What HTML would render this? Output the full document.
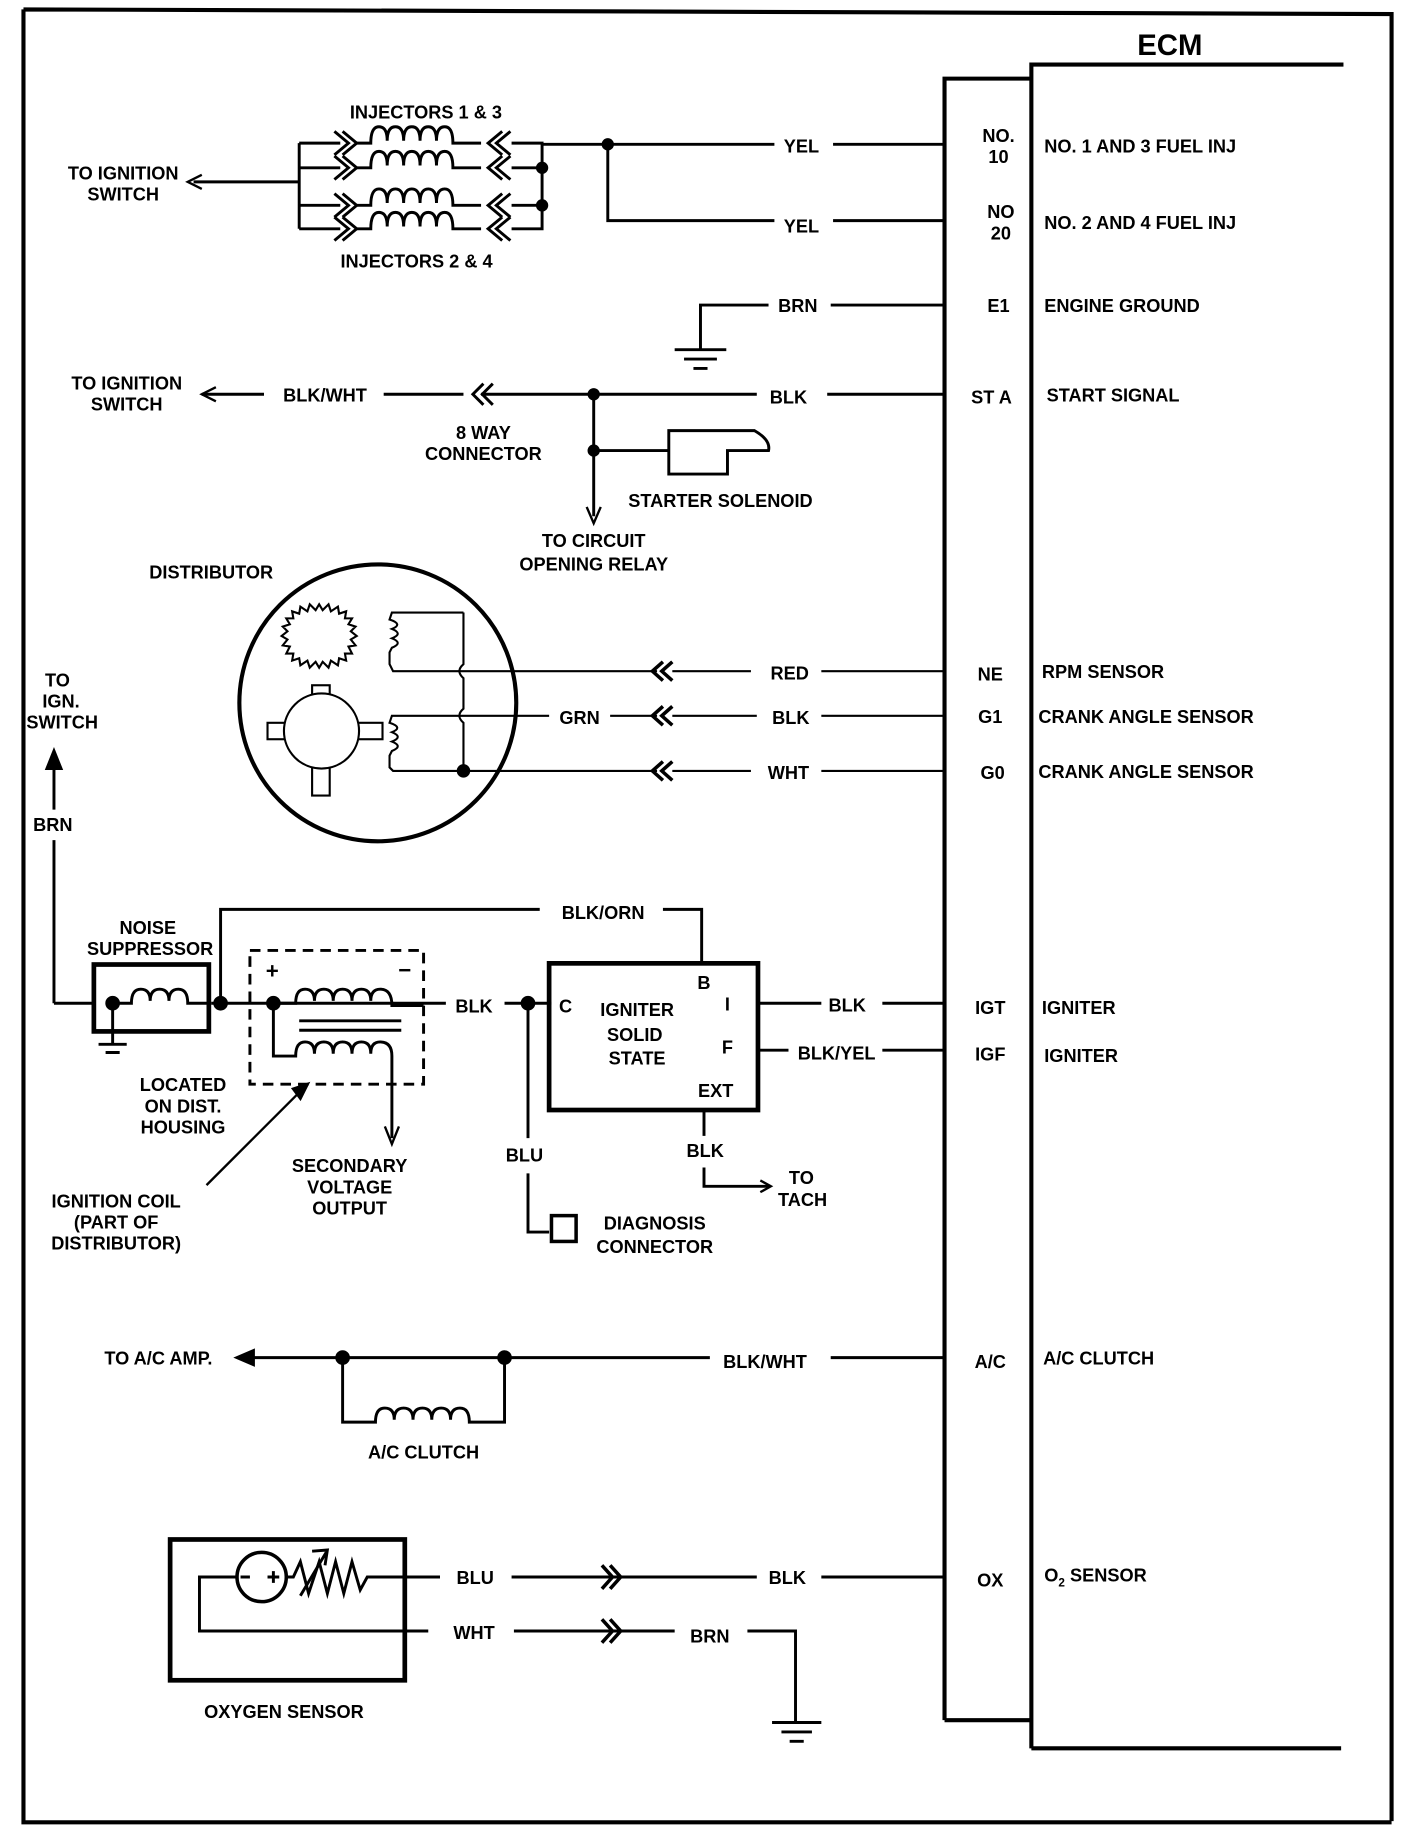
<!DOCTYPE html>
<html><head><meta charset="utf-8"><style>
html,body{margin:0;padding:0;background:#fff;}
svg{display:block;}
text{font-family:"Liberation Sans",sans-serif;font-weight:bold;font-size:15.5px;fill:#000;}
</style></head><body>
<svg width="1408" height="1834" viewBox="0 0 1200 1563" preserveAspectRatio="none" xmlns="http://www.w3.org/2000/svg">
<g fill="none" stroke="#000" stroke-width="2.5" stroke-linecap="butt">
<path d="M20 8 L1186 12 L1186 1552 M20 8 L20 1553 L1186 1553" stroke-width="3.5"/>
<path d="M805 1466 L805 67 L879 67 M879 1490 L879 55 L1145 55 M879 1490 L1143 1490 M805 1466 L879 1466" stroke-width="3.5"/>

<path d="M165 155 L255 155 M255 122 L255 195 M255 122 L290 122 M255 143 L290 143 M255 175 L290 175 M255 195 L290 195"/>
<path d="M172 149 L160 155 L172 161" stroke-width="2"/>
<g id="inj">
<path d="M285 112 L297 122 L285 132 M292 112 L304 122 L292 132"/>
<path d="M304 122 L316 122 Q316 108 323 108 Q330 108 330 120 Q330 108 337 108 Q344 108 344 120 Q344 108 351 108 Q358 108 358 120 Q358 108 365 108 Q372 108 372 120 Q372 108 379 108 Q386 108 386 122 L410 122"/>
<path d="M428 112 L416 122 L428 132 M435 112 L423 122 L435 132"/>
</g>
<use href="#inj" y="21"/>
<use href="#inj" y="53"/>
<use href="#inj" y="73"/>
<path d="M436 122 L462 122 L462 195 L436 195 M436 143 L462 143 M436 175 L462 175"/>
<circle cx="462" cy="143" r="4" fill="#000"/>
<circle cx="462" cy="175" r="4" fill="#000"/>
<circle cx="518" cy="123" r="4" fill="#000"/>
<path d="M462 123 L660 123 M710 123 L805 123 M518 123 L518 188 L660 188 M710 188 L805 188"/>
<path d="M597 298 L597 260 L655 260 M708 260 L805 260 M575 298 L619 298 M583 306 L611 306 M591 314 L603 314"/>
<path d="M172 336 L225 336 M327 336 L395 336 M410 336 L645 336 M705 336 L805 336"/>
<path d="M184 330 L172 336 L184 342" stroke-width="2"/>
<path d="M412 327 L403 336 L412 345 M420 327 L411 336 L420 345"/>
<circle cx="506" cy="336" r="4" fill="#000"/>
<circle cx="506" cy="384" r="4" fill="#000"/>
<path d="M506 336 L506 440 M506 384 L570 384 M570 404 L570 367 L643 367 Q657 375 655 384 L620 384 L620 404 Z"/>
<path d="M500 432 L506 446 L512 432" stroke-width="2"/>
<circle cx="322" cy="599" r="118" stroke-width="3.5"/>
<g stroke-width="1.8">
<path d="M395 522 L334 522 L332 528 Q344 532 334 536 Q344 540 334 544 Q344 548 334 552 L332 556 L332 566 L335 572 L560 572"/>
<path d="M560 610 L334 610 L332 616 Q344 620 334 624 Q344 628 334 632 Q344 636 334 640 L332 644 L332 654 L335 657 L560 657"/>
<path d="M395 522 L395 566 Q388 572 395 578 L395 604 Q388 610 395 616 L395 657"/>
<path d="M272 515 L275 520 L280 515 L282 521 L288 517 L289 523 L295 521 L294 527 L300 527 L297 532 L303 534 L299 538 L304 542 L299 545 L303 550 L297 551 L300 557 L294 557 L295 563 L289 561 L288 567 L282 563 L280 569 L275 564 L272 569 L269 564 L264 569 L262 563 L256 567 L255 561 L249 563 L250 557 L244 557 L247 551 L241 550 L245 545 L240 542 L245 538 L241 534 L247 532 L244 527 L250 527 L249 521 L255 523 L256 517 L262 521 L264 515 L269 520 Z"/>
<rect x="266" y="584" width="15" height="22" fill="#fff"/>
<rect x="266" y="652" width="15" height="26" fill="#fff"/>
<rect x="228" y="616" width="20" height="14" fill="#fff"/>
<rect x="298" y="616" width="28" height="14" fill="#fff"/>
<circle cx="274" cy="623" r="32" fill="#fff"/>
</g>
<circle cx="395" cy="657" r="4.5" fill="#000"/>
<path d="M468 610 L520 610" stroke="#fff" stroke-width="4"/>
<path d="M573 572 L640 572 M573 610 L645 610 M573 657 L640 657 M700 572 L805 572 M700 610 L805 610 M700 657 L805 657" stroke-width="1.8"/>
<g stroke-width="3">
<path d="M565 564 L556 572 L565 580 M573 564 L564 572 L573 580"/>
<path d="M565 602 L556 610 L565 618 M573 602 L564 610 L573 618"/>
<path d="M565 649 L556 657 L565 665 M573 649 L564 657 L573 665"/>
</g>
<path d="M46 855 L46 716 M46 690 L46 645"/>
<path d="M40 655 L46 640 L52 655 Z" fill="#000"/>
<path d="M46 855 L80 855 M180 855 L380 855 M430 855 L470 855"/>
<rect x="80" y="822" width="98" height="57" stroke-width="4"/>
<path d="M96 855 L112 855 Q112 843 120 843 Q128 843 128 853 Q128 843 136 843 Q144 843 144 853 Q144 843 152 843 Q160 843 160 855 L178 855 M96 855 L96 890 M84 890 L108 890 M90 897 L102 897"/>
<path d="M188 855 L188 775 L460 775 M565 775 L598 775 L598 820"/>
<rect x="213" y="810" width="148" height="114" stroke-dasharray="9 6"/>
<path d="M233 855 L252 855 Q252 843 260 843 Q268 843 268 853 Q268 843 276 843 Q284 843 284 853 Q284 843 292 843 Q300 843 300 853 Q300 843 308 843 Q316 843 316 853 Q316 843 324 843 Q334 843 334 857 L361 857 M233 855 L233 900 L252 900 Q252 888 260 888 Q268 888 268 898 Q268 888 276 888 Q284 888 284 898 Q284 888 292 888 Q300 888 300 898 Q300 888 308 888 Q316 888 316 898 Q316 888 324 888 Q334 888 334 900 L334 970 M255 870 L342 870 M255 878 L342 878"/>
<path d="M328 960 L334 975 L340 960" stroke-width="2"/>
<path d="M176 1010 L258 928" stroke-width="2"/>
<path d="M250 928 L262 924 L256 936 Z" fill="#000"/>
<circle cx="96" cy="855" r="5" fill="#000"/>
<circle cx="188" cy="855" r="5" fill="#000"/>
<circle cx="233" cy="855" r="5" fill="#000"/>
<circle cx="450" cy="855" r="5" fill="#000"/>
<path d="M450 855 L450 970 M450 1000 L450 1050 L468 1050"/>
<rect x="470" y="1036" width="21" height="22" stroke-width="3"/>
<rect x="468" y="821" width="178" height="125" stroke-width="4"/>
<path d="M646 855 L700 855 M752 855 L805 855 M646 895 L672 895 M752 895 L805 895 M600 946 L600 968 M600 995 L600 1011 L655 1011"/>
<path d="M648 1006 L657 1011 L648 1016" stroke-width="2"/>
<path d="M206 1157 L605 1157 M708 1157 L805 1157"/>
<path d="M216 1151 L202 1157 L216 1163 Z" fill="#000"/>
<path d="M292 1157 L292 1212 L320 1212 Q320 1200 328 1200 Q336 1200 336 1210 Q336 1200 344 1200 Q352 1200 352 1210 Q352 1200 360 1200 Q368 1200 368 1210 Q368 1200 376 1200 Q384 1200 384 1210 Q384 1200 392 1200 Q400 1200 400 1212 L430 1212 L430 1157"/>
<circle cx="292" cy="1157" r="5" fill="#000"/>
<circle cx="430" cy="1157" r="5" fill="#000"/>
<rect x="145" y="1312" width="200" height="120" stroke-width="4"/>
<circle cx="223" cy="1344" r="21" stroke-width="3"/>
<path d="M205 1344 L213 1344 M228 1344 L238 1344 M233 1339 L233 1349 M244 1344 L250 1344 L256 1331 L263 1358 L272 1331 L279 1358 L286 1331 L293 1358 L300 1331 L307 1355 L313 1344 L375 1344 M436 1344 L645 1344 M700 1344 L805 1344 M202 1344 L170 1344 L170 1390 L365 1390 M438 1390 L575 1390 M637 1390 L678 1390 L678 1468 M658 1468 L700 1468 M666 1476 L692 1476 M673 1484 L685 1484"/>
<path d="M256 1360 L278 1323 M266 1322 L279 1321 L277 1334" stroke-width="2.5"/>
<path d="M513 1334 L522 1344 L513 1354 M520 1334 L529 1344 L520 1354 M513 1380 L522 1390 L513 1400 M520 1380 L529 1390 L520 1400" stroke-width="3"/>
</g>

<text x="997" y="47" text-anchor="middle" style="font-size:25px">ECM</text>
<text x="363" y="101" text-anchor="middle">INJECTORS 1 &amp; 3</text>
<text x="355" y="228" text-anchor="middle">INJECTORS 2 &amp; 4</text>
<text x="105" y="153" text-anchor="middle">TO IGNITION</text>
<text x="105" y="171" text-anchor="middle">SWITCH</text>
<text x="683" y="130" text-anchor="middle">YEL</text>
<text x="683" y="198" text-anchor="middle">YEL</text>
<text x="851" y="121" text-anchor="middle">NO.</text>
<text x="851" y="139" text-anchor="middle">10</text>
<text x="853" y="186" text-anchor="middle">NO</text>
<text x="853" y="204" text-anchor="middle">20</text>
<text x="890" y="130">NO. 1 AND 3 FUEL INJ</text>
<text x="890" y="195">NO. 2 AND 4 FUEL INJ</text>
<text x="680" y="266" text-anchor="middle">BRN</text>
<text x="851" y="266" text-anchor="middle">E1</text>
<text x="890" y="266">ENGINE GROUND</text>
<text x="108" y="332" text-anchor="middle">TO IGNITION</text>
<text x="108" y="350" text-anchor="middle">SWITCH</text>
<text x="277" y="342" text-anchor="middle">BLK/WHT</text>
<text x="672" y="344" text-anchor="middle">BLK</text>
<text x="845" y="344" text-anchor="middle">ST A</text>
<text x="892" y="342">START SIGNAL</text>
<text x="412" y="374" text-anchor="middle">8 WAY</text>
<text x="412" y="392" text-anchor="middle">CONNECTOR</text>
<text x="614" y="432" text-anchor="middle">STARTER SOLENOID</text>
<text x="506" y="466" text-anchor="middle">TO CIRCUIT</text>
<text x="506" y="486" text-anchor="middle">OPENING RELAY</text>
<text x="180" y="493" text-anchor="middle">DISTRIBUTOR</text>
<text x="673" y="579" text-anchor="middle">RED</text>
<text x="844" y="580" text-anchor="middle">NE</text>
<text x="888" y="578">RPM SENSOR</text>
<text x="494" y="617" text-anchor="middle">GRN</text>
<text x="674" y="617" text-anchor="middle">BLK</text>
<text x="844" y="616" text-anchor="middle">G1</text>
<text x="885" y="616">CRANK ANGLE SENSOR</text>
<text x="672" y="664" text-anchor="middle">WHT</text>
<text x="846" y="664" text-anchor="middle">G0</text>
<text x="885" y="663">CRANK ANGLE SENSOR</text>
<text x="49" y="585" text-anchor="middle">TO</text>
<text x="52" y="603" text-anchor="middle">IGN.</text>
<text x="53" y="621" text-anchor="middle">SWITCH</text>
<text x="45" y="708" text-anchor="middle">BRN</text>
<text x="514" y="783" text-anchor="middle">BLK/ORN</text>
<text x="126" y="796" text-anchor="middle">NOISE</text>
<text x="128" y="814" text-anchor="middle">SUPPRESSOR</text>
<text x="232" y="834" text-anchor="middle" style="font-size:19px">+</text>
<text x="345" y="833" text-anchor="middle" style="font-size:19px">−</text>
<text x="404" y="863" text-anchor="middle">BLK</text>
<text x="482" y="863" text-anchor="middle">C</text>
<text x="543" y="866" text-anchor="middle">IGNITER</text>
<text x="541" y="887" text-anchor="middle">SOLID</text>
<text x="543" y="907" text-anchor="middle">STATE</text>
<text x="600" y="843" text-anchor="middle">B</text>
<text x="620" y="861" text-anchor="middle">I</text>
<text x="620" y="898" text-anchor="middle">F</text>
<text x="610" y="935" text-anchor="middle">EXT</text>
<text x="722" y="862" text-anchor="middle">BLK</text>
<text x="844" y="864" text-anchor="middle">IGT</text>
<text x="888" y="864">IGNITER</text>
<text x="713" y="903" text-anchor="middle">BLK/YEL</text>
<text x="844" y="904" text-anchor="middle">IGF</text>
<text x="890" y="905">IGNITER</text>
<text x="156" y="930" text-anchor="middle">LOCATED</text>
<text x="156" y="948" text-anchor="middle">ON DIST.</text>
<text x="156" y="966" text-anchor="middle">HOUSING</text>
<text x="447" y="990" text-anchor="middle">BLU</text>
<text x="601" y="986" text-anchor="middle">BLK</text>
<text x="298" y="999" text-anchor="middle">SECONDARY</text>
<text x="298" y="1017" text-anchor="middle">VOLTAGE</text>
<text x="298" y="1035" text-anchor="middle">OUTPUT</text>
<text x="683" y="1009" text-anchor="middle">TO</text>
<text x="684" y="1028" text-anchor="middle">TACH</text>
<text x="99" y="1029" text-anchor="middle">IGNITION COIL</text>
<text x="99" y="1047" text-anchor="middle">(PART OF</text>
<text x="99" y="1065" text-anchor="middle">DISTRIBUTOR)</text>
<text x="558" y="1048" text-anchor="middle">DIAGNOSIS</text>
<text x="558" y="1068" text-anchor="middle">CONNECTOR</text>
<text x="135" y="1163" text-anchor="middle">TO A/C AMP.</text>
<text x="652" y="1166" text-anchor="middle">BLK/WHT</text>
<text x="844" y="1166" text-anchor="middle">A/C</text>
<text x="889" y="1163">A/C CLUTCH</text>
<text x="361" y="1243" text-anchor="middle">A/C CLUTCH</text>
<text x="405" y="1350" text-anchor="middle">BLU</text>
<text x="671" y="1350" text-anchor="middle">BLK</text>
<text x="844" y="1352" text-anchor="middle">OX</text>
<text x="890" y="1348">O<tspan style="font-size:10px" dy="4">2</tspan><tspan dy="-4"> SENSOR</tspan></text>
<text x="404" y="1397" text-anchor="middle">WHT</text>
<text x="605" y="1400" text-anchor="middle">BRN</text>
<text x="242" y="1464" text-anchor="middle">OXYGEN SENSOR</text>
</svg>
</body></html>
